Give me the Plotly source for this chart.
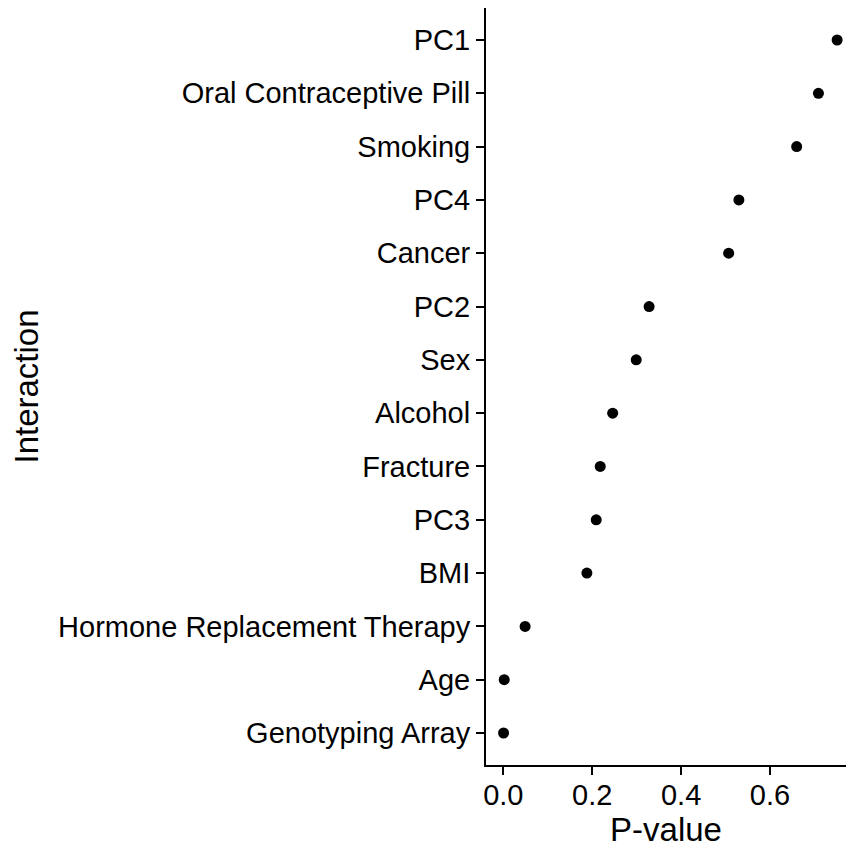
import plotly.graph_objects as go

# Categories listed from top to bottom as in the chart
interactions = [
    "PC1", "Oral Contraceptive Pill", "Smoking", "PC4", "Cancer", "PC2", "Sex",
    "Alcohol", "Fracture", "PC3", "BMI", "Hormone Replacement Therapy", "Age",
    "Genotyping Array",
]
p_values = [
    0.751, 0.709, 0.660, 0.530, 0.507, 0.328, 0.299,
    0.246, 0.218, 0.209, 0.188, 0.049, 0.002, 0.0005,
]
x_ticks = [0.0, 0.2, 0.4, 0.6]
x_tick_labels = ["0.0", "0.2", "0.4", "0.6"]

FONT = "Liberation Sans, Arial, Helvetica, sans-serif"

fig = go.Figure(
    go.Scatter(
        x=p_values,
        y=interactions,
        mode="markers",
        marker=dict(color="black", size=11, line=dict(width=0)),
        cliponaxis=False,
        showlegend=False,
    )
)

fig.update_layout(
    width=846,
    height=850,
    margin=dict(l=486, r=0, t=8, b=85, autoexpand=False),
    paper_bgcolor="white",
    plot_bgcolor="white",
    font=dict(family=FONT, color="black", size=29),
)

fig.update_xaxes(
    range=[-0.039, 0.771],
    tickvals=x_ticks,
    ticktext=x_tick_labels,
    showgrid=False,
    zeroline=False,
    showline=True,
    linecolor="black",
    linewidth=2,
    ticks="outside",
    ticklen=8,
    tickwidth=2,
    tickcolor="black",
    ticklabelstandoff=-5,
    tickfont=dict(size=29, color="black", family=FONT),
    title=dict(text="P-value", font=dict(size=33, color="black", family=FONT), standoff=8),
    automargin=False,
)

fig.update_yaxes(
    type="category",
    categoryorder="array",
    categoryarray=list(reversed(interactions)),
    range=[-0.6, len(interactions) - 0.4],
    showgrid=False,
    zeroline=False,
    showline=True,
    linecolor="black",
    linewidth=2,
    ticks="outside",
    ticklen=8,
    tickwidth=2,
    tickcolor="black",
    tickfont=dict(size=29, color="black", family=FONT),
    title=dict(text="Interaction", font=dict(size=33, color="black", family=FONT), standoff=10),
    automargin=False,
)

fig.write_html(
    "out.html",
    config={"displayModeBar": False},
    post_script="document.body.style.margin='0';document.body.style.overflow='hidden';",
)
